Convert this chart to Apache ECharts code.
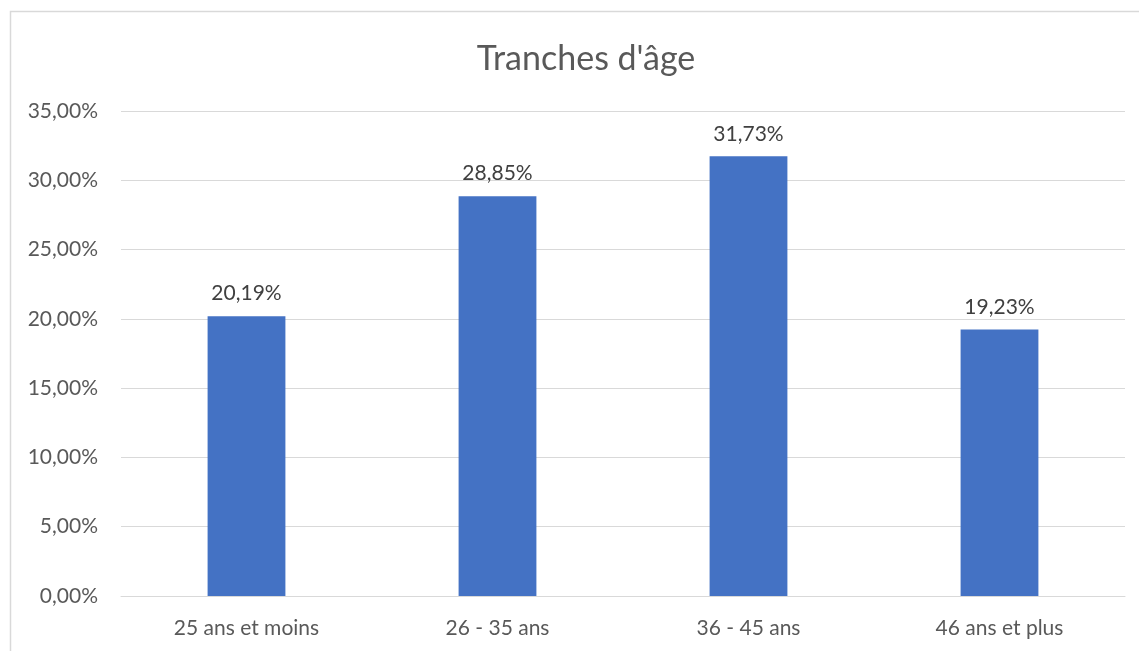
<!DOCTYPE html>
<html><head><meta charset="utf-8">
<script src="https://cdn.jsdelivr.net/npm/echarts@6/dist/echarts.min.js"></script>
<style>html,body{margin:0;padding:0;background:#fff}#c{width:1139px;height:651px}</style>
</head><body><div id="c"></div>
<script>
const categories = ["25 ans et moins", "26 - 35 ans", "36 - 45 ans", "46 ans et plus"];
const values = [20.19, 28.85, 31.73, 19.23];
const titleText = "Tranches d'âge";
const fmt = v => v.toFixed(2).replace('.', ',') + '%';
const chart = echarts.init(document.getElementById('c'), null, {renderer: 'canvas'});
const font = 'Lato, "Open Sans", sans-serif';
chart.setOption({
  animation: false,
  graphic: [{type: 'rect', shape: {x: 10.5, y: 11.5, width: 1200, height: 700}, style: {fill: 'none', stroke: '#d9d9d9', lineWidth: 1.5}, silent: true}],
  title: {text: titleText, left: 581, top: 37, textAlign: 'center', textStyle: {fontFamily: font, fontSize: 34, fontWeight: 'normal', color: '#595959'}},
  grid: {left: 121, right: 14, top: 111, bottom: 55, containLabel: false},
  xAxis: {type: 'category', data: categories, axisTick: {show: false},
    axisLine: {lineStyle: {color: '#d9d9d9', width: 1}},
    axisLabel: {fontFamily: font, fontSize: 21, color: '#595959', margin: 22}},
  yAxis: {type: 'value', min: 0, max: 35, interval: 5,
    axisLine: {show: false}, axisTick: {show: false},
    splitLine: {lineStyle: {color: '#d9d9d9', width: 1}},
    axisLabel: {fontFamily: font, fontSize: 21, color: '#595959', margin: 23, formatter: v => fmt(v)}},
  series: [{type: 'bar', data: values, barWidth: '31%', itemStyle: {color: '#4472c4'},
    label: {show: true, position: 'top', distance: 12, fontFamily: font, fontSize: 21, color: '#404040', formatter: p => fmt(p.value)}}]
});
</script></body></html>
